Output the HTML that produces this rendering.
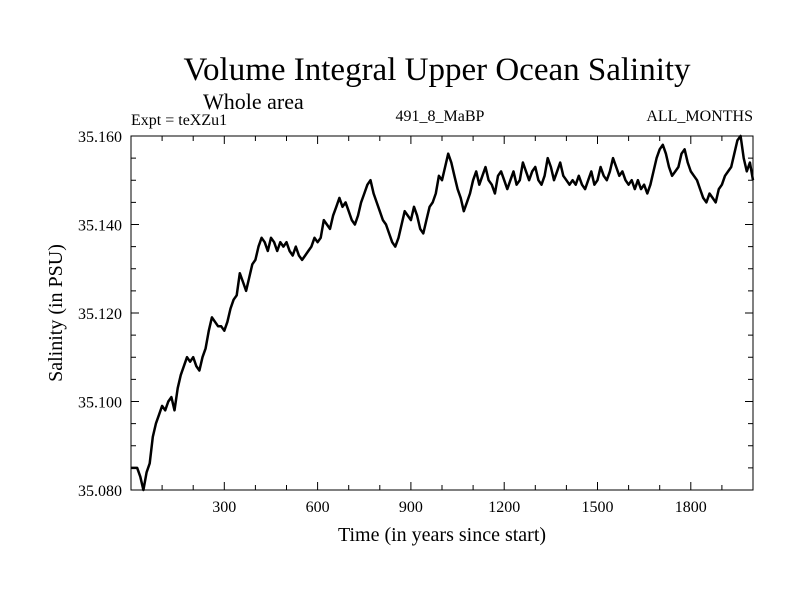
<!DOCTYPE html>
<html><head><meta charset="utf-8"><style>
body{margin:0;background:#fff;}
svg text{font-family:"Liberation Serif",serif;fill:#000;}
</style></head><body>
<svg width="800" height="600" xmlns="http://www.w3.org/2000/svg">
<text x="437" y="80" font-size="33" text-anchor="middle">Volume Integral Upper Ocean Salinity</text>
<text x="203" y="109" font-size="22">Whole area</text>
<text x="131" y="125" font-size="16">Expt = teXZu1</text>
<text x="440" y="121" font-size="16" text-anchor="middle">491_8_MaBP</text>
<text x="753" y="121" font-size="16" text-anchor="end">ALL_MONTHS</text>
<g id="axes"></g>
<path id="line" fill="none" stroke="#000" stroke-width="2.5" stroke-linejoin="round"/>
<rect x="131" y="136" width="622" height="354" fill="none" stroke="#000" stroke-width="1"/>
<text x="442" y="541" font-size="20" text-anchor="middle">Time (in years since start)</text>
<text transform="translate(62,313) rotate(-90)" font-size="20" text-anchor="middle">Salinity (in PSU)</text>
</svg>
<script>
const years = [];
for (let i = 0; i <= 200; i++) years.push(i * 10);
const salinity = [35.085,35.085,35.085,35.083,35.080,35.084,35.086,35.092,35.095,35.097,
35.099,35.098,35.100,35.101,35.098,35.103,35.106,35.108,35.110,35.109,
35.110,35.108,35.107,35.110,35.112,35.116,35.119,35.118,35.117,35.117,
35.116,35.118,35.121,35.123,35.124,35.129,35.127,35.125,35.128,35.131,
35.132,35.135,35.137,35.136,35.134,35.137,35.136,35.134,35.136,35.135,
35.136,35.134,35.133,35.135,35.133,35.132,35.133,35.134,35.135,35.137,
35.136,35.137,35.141,35.140,35.139,35.142,35.144,35.146,35.144,35.145,
35.143,35.141,35.140,35.142,35.145,35.147,35.149,35.150,35.147,35.145,
35.143,35.141,35.140,35.138,35.136,35.135,35.137,35.140,35.143,35.142,
35.141,35.144,35.142,35.139,35.138,35.141,35.144,35.145,35.147,35.151,
35.150,35.153,35.156,35.154,35.151,35.148,35.146,35.143,35.145,35.147,
35.150,35.152,35.149,35.151,35.153,35.150,35.149,35.147,35.151,35.152,
35.150,35.148,35.150,35.152,35.149,35.150,35.154,35.152,35.150,35.152,
35.153,35.150,35.149,35.151,35.155,35.153,35.150,35.152,35.154,35.151,
35.150,35.149,35.150,35.149,35.151,35.149,35.148,35.150,35.152,35.149,
35.150,35.153,35.151,35.150,35.152,35.155,35.153,35.151,35.152,35.150,
35.149,35.150,35.148,35.150,35.148,35.149,35.147,35.149,35.152,35.155,
35.157,35.158,35.156,35.153,35.151,35.152,35.153,35.156,35.157,35.154,
35.152,35.151,35.150,35.148,35.146,35.145,35.147,35.146,35.145,35.148,
35.149,35.151,35.152,35.153,35.156,35.159,35.160,35.155,35.152,35.154,35.150];
const xTicks = [300,600,900,1200,1500,1800];
const yTicks = [35.080,35.100,35.120,35.140,35.160];

const X0=131,X1=753,Y0=490,Y1=136;
const xs = v => X0 + (v-0)/2000*(X1-X0);
const ys = v => Y0 - (v-35.080)/0.080*(Y0-Y1);
const NS="http://www.w3.org/2000/svg";
const axes=document.getElementById('axes');
function ln(x1,y1,x2,y2){const l=document.createElementNS(NS,'line');
l.setAttribute('x1',x1);l.setAttribute('y1',y1);l.setAttribute('x2',x2);l.setAttribute('y2',y2);
l.setAttribute('stroke','#000');axes.appendChild(l);return l;}
for(let t=100;t<2000;t+=100){const big=t%300===0;const L=big?8:5;
 const a=ln(xs(t),Y0,xs(t),Y0-L);
 const b=ln(xs(t),Y1,xs(t),Y1+L);}
for(let k=1;k<16;k++){const v=35.080+k*0.005;const big=k%4===0;const L=big?8:5;
 const a=ln(X0,ys(v),X0+L,ys(v));
 const b=ln(X1,ys(v),X1-L,ys(v));}
xTicks.forEach(t=>{const tx=document.createElementNS(NS,'text');
 tx.setAttribute('x',xs(t));tx.setAttribute('y',Y0+22);tx.setAttribute('font-size','16');tx.setAttribute('text-anchor','middle');
 tx.textContent=t;
 
 
 axes.appendChild(tx);});
yTicks.forEach(v=>{const tx=document.createElementNS(NS,'text');
 tx.setAttribute('x',X0-9);tx.setAttribute('y',ys(v)+6);tx.setAttribute('font-size','16');tx.setAttribute('text-anchor','end');
 tx.textContent=v.toFixed(3);
 
 
 axes.appendChild(tx);});
let d='';
salinity.forEach((v,i)=>{d+=(i?'L':'M')+xs(years[i]).toFixed(1)+','+ys(v).toFixed(1);});
document.getElementById('line').setAttribute('d',d);
</script>
</body></html>
